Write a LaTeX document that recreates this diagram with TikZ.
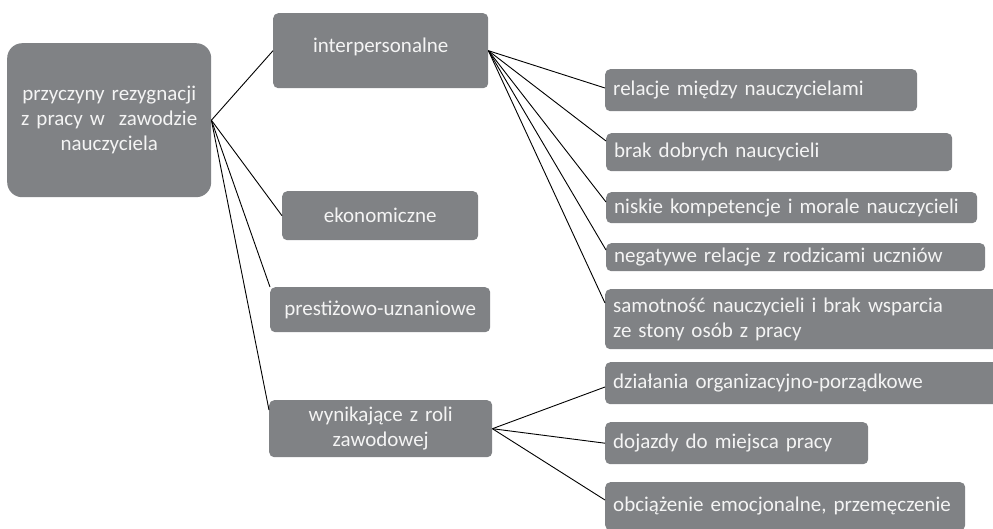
\documentclass[tikz,border=0pt]{standalone}
\usepackage{fontspec}
\setmainfont{Carlito}
\definecolor{boxgrey}{HTML}{808285}
\definecolor{boxtext}{HTML}{F4F4F4}
\tikzset{
  box/.style={fill=boxgrey, rounded corners=5pt, text=boxtext,
    font=\fontsize{21}{25}\selectfont, inner xsep=8pt, inner ysep=0pt,
    anchor=north west},
  lbox/.style={box, align=left},
  cbox/.style={box, align=center},
  txt/.style={text=boxtext, font=\fontsize{21}{25}\selectfont, inner sep=0pt},
  conn/.style={draw=black, line width=0.9pt}
}
\begin{document}
\begin{tikzpicture}[x=1pt,y=-1pt]
\useasboundingbox (0,0) rectangle (993,528);
\clip (0,0) rectangle (993,528);
% level 0
\node[cbox, rounded corners=15pt, minimum width=204pt, minimum height=154pt, text width=188pt] (root) at (7,43)
  {przyczyny rezygnacji\\z pracy w\ \ zawodzie\\nauczyciela};
% level 1
\node[box, minimum width=215pt, minimum height=75pt] (inter) at (273,13) {};
\node[txt, anchor=base] (intertxt) at ([yshift=-39pt]inter.north) {interpersonalne};
\node[cbox, minimum width=196pt, minimum height=49pt, text width=180pt] (ekon) at (282,191) {ekonomiczne};
\node[cbox, minimum width=220pt, minimum height=45pt, text width=204pt] (prest) at (270,287) {prestiżowo-uznaniowe};
\node[cbox, minimum width=223pt, minimum height=57pt, text width=207pt] (wyn) at (269,400) {wynikające z roli\\zawodowej};
% level 2
\node[lbox, minimum width=312pt, minimum height=42pt, text width=296pt] (rel) at (605,69) {relacje między nauczycielami};
\node[lbox, minimum width=346pt, minimum height=38pt, text width=330pt] (brak) at (606,133) {brak dobrych naucycieli};
\node[lbox, minimum width=371pt, minimum height=31pt, text width=355pt] (nisk) at (606,192) {niskie kompetencje i morale nauczycieli};
\node[lbox, minimum width=379pt, minimum height=28pt, text width=363pt] (neg) at (606,243) {negatywe relacje z rodzicami uczniów};
\node[lbox, minimum width=400pt, minimum height=60pt, text width=384pt] (sam) at (605,289) {samotność nauczycieli i brak wsparcia\\ze stony osób z pracy};
\node[lbox, minimum width=400pt, minimum height=42pt, text width=384pt] (dzi) at (605,362) {działania organizacyjno-porządkowe};
\node[lbox, minimum width=263pt, minimum height=42pt, text width=247pt] (doj) at (605,422) {dojazdy do miejsca pracy};
\node[lbox, minimum width=360pt, minimum height=48pt, text width=344pt] (obc) at (605,482) {obciążenie emocjonalne, przemęczenie};
% connectors
\draw[conn] (root.east) -- (inter.west);
\draw[conn] (root.east) -- (ekon.west);
\draw[conn] (root.east) -- (prest.north west);
\draw[conn] (root.east) -- ([yshift=-10pt]wyn.north west);
\draw[conn] (inter.east) -- ([yshift=-19pt]rel.north west);
\draw[conn] (inter.east) -- ([yshift=-8pt]brak.north west);
\draw[conn] (inter.east) -- ([yshift=-10pt]nisk.north west);
\draw[conn] (inter.east) -- ([yshift=-7pt]neg.north west);
\draw[conn] (inter.east) -- ([yshift=-14pt]sam.north west);
\draw[conn] (wyn.east) -- ([yshift=-25pt]dzi.north west);
\draw[conn] (wyn.east) -- (doj.west);
\draw[conn] (wyn.east) -- ([yshift=-18pt]obc.north west);
\end{tikzpicture}
\end{document}
